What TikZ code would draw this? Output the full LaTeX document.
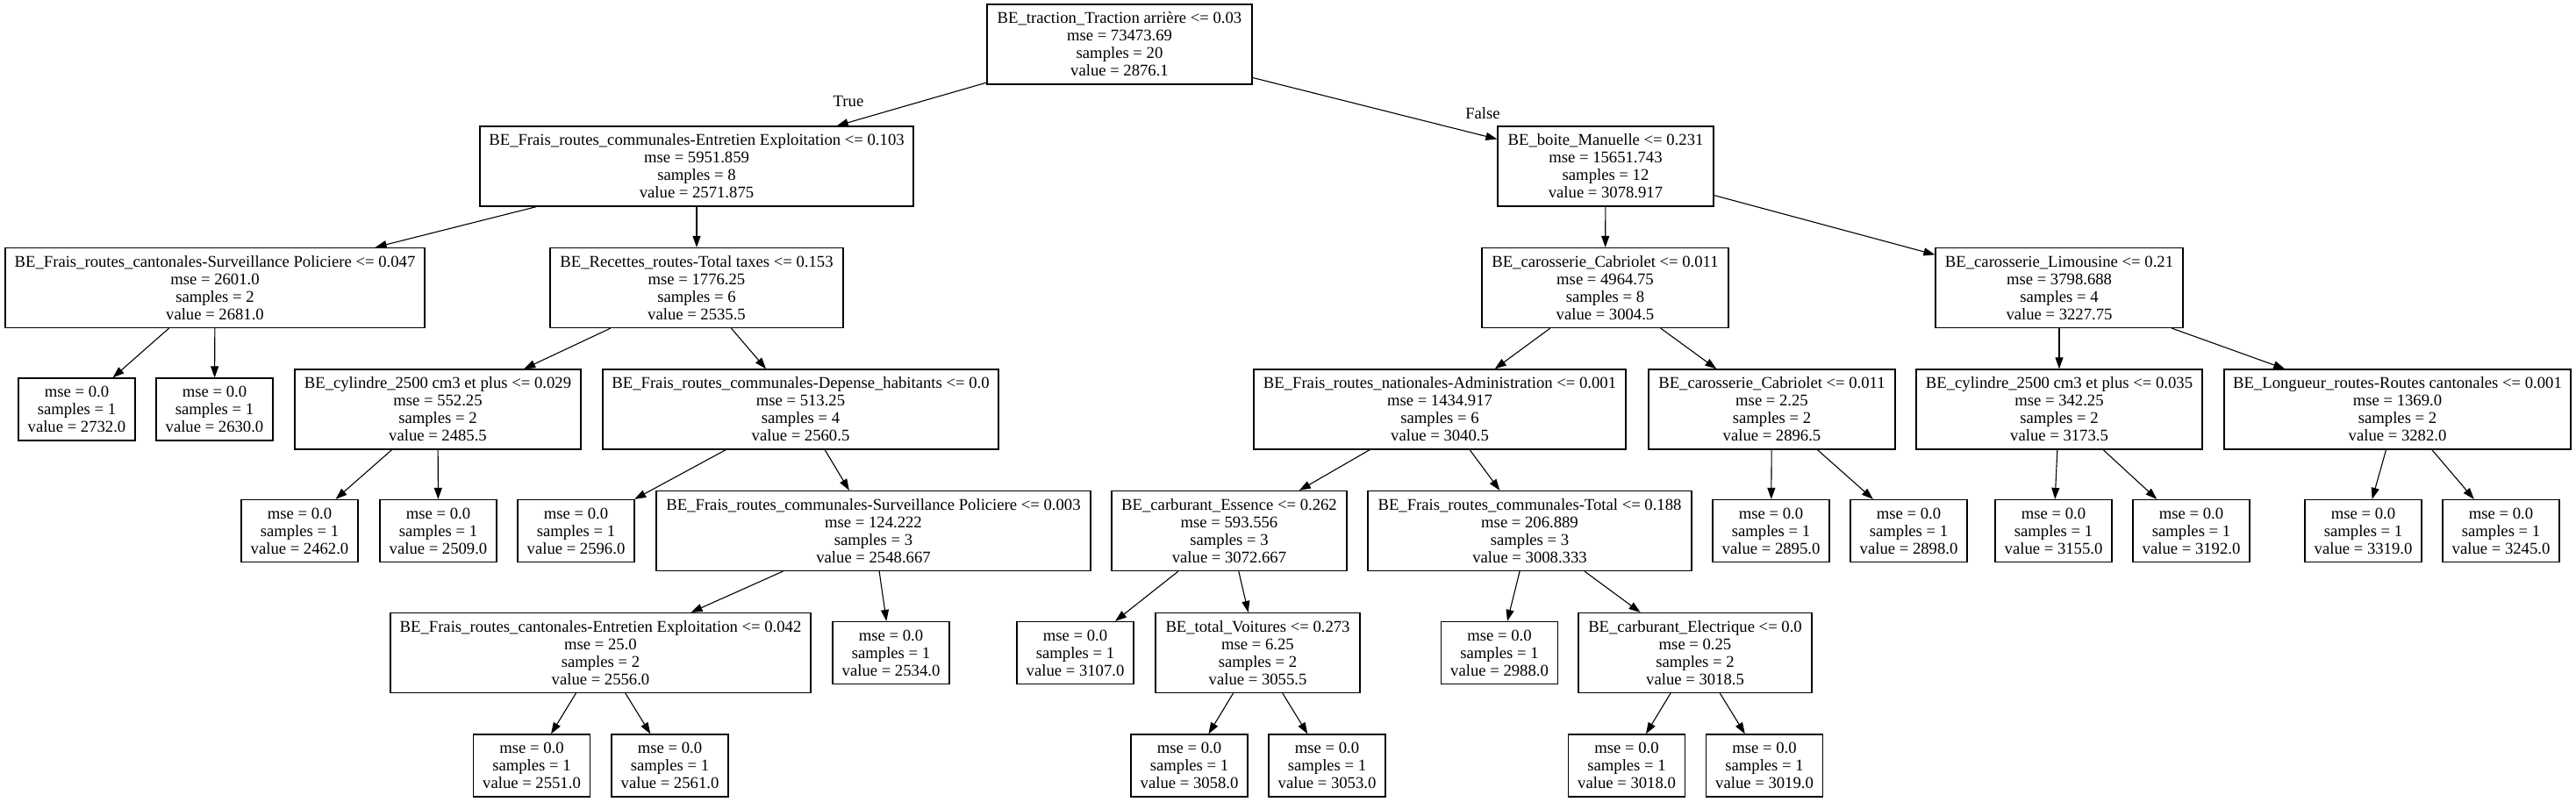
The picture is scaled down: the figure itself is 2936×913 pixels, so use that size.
\documentclass[tikz,border=0pt]{standalone}
\usepackage{fontspec}
\setmainfont{Liberation Serif}
\usepackage{tikz}
\usetikzlibrary{arrows.meta}
\newcommand{\leafTxt}[1]{mse = 0.0\\samples = 1\\value = #1}
\newcommand{\splitTxt}[4]{#1\\mse = #2\\samples = #3\\value = #4}

\begin{document}
\begin{tikzpicture}[x=1pt, y=-1pt, >={Triangle[length=13pt, width=9pt]},
    every node/.style={font=\fontsize{18.67}{20}\selectfont, inner sep=0pt},
    splitbox/.style={draw, line width=1.2pt, align=center, minimum width=#1pt, minimum height=91pt},
    leafbox/.style={draw, line width=1.2pt, align=center, minimum width=133pt, minimum height=71pt},
    edge/.style={->, line width=1.1pt}]
    \useasboundingbox (0,0) rectangle (2936,913);
    % level 0 and 1
    \node[splitbox=302] (root) at (1276,50.5) {\splitTxt{BE\_traction\_Traction arrière <= 0.03}{73473.69}{20}{2876.1}};
    \node[splitbox=494] (comEnt) at (794,189.5) {\splitTxt{BE\_Frais\_routes\_communales-Entretien Exploitation <= 0.103}{5951.859}{8}{2571.875}};
    \node[splitbox=246] (boite) at (1830,189.5) {\splitTxt{BE\_boite\_Manuelle <= 0.231}{15651.743}{12}{3078.917}};
    % level 2
    \node[splitbox=478] (cantSurv) at (245,328) {\splitTxt{BE\_Frais\_routes\_cantonales-Surveillance Policiere <= 0.047}{2601.0}{2}{2681.0}};
    \node[splitbox=334] (recettes) at (794,328) {\splitTxt{BE\_Recettes\_routes-Total taxes <= 0.153}{1776.25}{6}{2535.5}};
    \node[splitbox=281] (cabA) at (1829.5,328) {\splitTxt{BE\_carosserie\_Cabriolet <= 0.011}{4964.75}{8}{3004.5}};
    \node[splitbox=282] (limo) at (2347,328) {\splitTxt{BE\_carosserie\_Limousine <= 0.21}{3798.688}{4}{3227.75}};
    % level 3
    \node[leafbox] (l2732) at (87.5,466.5) {\leafTxt{2732.0}};
    \node[leafbox] (l2630) at (244.5,466.5) {\leafTxt{2630.0}};
    \node[splitbox=326] (cylA) at (499,466.5) {\splitTxt{BE\_cylindre\_2500 cm3 et plus <= 0.029}{552.25}{2}{2485.5}};
    \node[splitbox=451] (depHab) at (912.5,466.5) {\splitTxt{BE\_Frais\_routes\_communales-Depense\_habitants <= 0.0}{513.25}{4}{2560.5}};
    \node[splitbox=424] (natAdm) at (1641,466.5) {\splitTxt{BE\_Frais\_routes\_nationales-Administration <= 0.001}{1434.917}{6}{3040.5}};
    \node[splitbox=281] (cabB) at (2019.5,466.5) {\splitTxt{BE\_carosserie\_Cabriolet <= 0.011}{2.25}{2}{2896.5}};
    \node[splitbox=326] (cylB) at (2347,466.5) {\splitTxt{BE\_cylindre\_2500 cm3 et plus <= 0.035}{342.25}{2}{3173.5}};
    \node[splitbox=395] (longueur) at (2732.5,466.5) {\splitTxt{BE\_Longueur\_routes-Routes cantonales <= 0.001}{1369.0}{2}{3282.0}};
    % level 4
    \node[leafbox] (l2462) at (341.5,605) {\leafTxt{2462.0}};
    \node[leafbox] (l2509) at (499.5,605) {\leafTxt{2509.0}};
    \node[leafbox] (l2596) at (656.5,605) {\leafTxt{2596.0}};
    \node[splitbox=495] (comSurv) at (995.5,605) {\splitTxt{BE\_Frais\_routes\_communales-Surveillance Policiere <= 0.003}{124.222}{3}{2548.667}};
    \node[splitbox=268] (essence) at (1401,605) {\splitTxt{BE\_carburant\_Essence <= 0.262}{593.556}{3}{3072.667}};
    \node[splitbox=369] (comTotal) at (1743.5,605) {\splitTxt{BE\_Frais\_routes\_communales-Total <= 0.188}{206.889}{3}{3008.333}};
    \node[leafbox] (l2895) at (2018.5,605) {\leafTxt{2895.0}};
    \node[leafbox] (l2898) at (2175.5,605) {\leafTxt{2898.0}};
    \node[leafbox] (l3155) at (2340.5,605) {\leafTxt{3155.0}};
    \node[leafbox] (l3192) at (2497.5,605) {\leafTxt{3192.0}};
    \node[leafbox] (l3319) at (2693.5,605) {\leafTxt{3319.0}};
    \node[leafbox] (l3245) at (2850.5,605) {\leafTxt{3245.0}};
    % level 5
    \node[splitbox=479] (cantEnt) at (684.5,744) {\splitTxt{BE\_Frais\_routes\_cantonales-Entretien Exploitation <= 0.042}{25.0}{2}{2556.0}};
    \node[leafbox] (l2534) at (1015.5,744) {\leafTxt{2534.0}};
    \node[leafbox] (l3107) at (1225.5,744) {\leafTxt{3107.0}};
    \node[splitbox=233] (voitures) at (1433.5,744) {\splitTxt{BE\_total\_Voitures <= 0.273}{6.25}{2}{3055.5}};
    \node[leafbox] (l2988) at (1709,744) {\leafTxt{2988.0}};
    \node[splitbox=266] (electrique) at (1932,744) {\splitTxt{BE\_carburant\_Electrique <= 0.0}{0.25}{2}{3018.5}};
    % level 6
    \node[leafbox] (l2551) at (606,872.5) {\leafTxt{2551.0}};
    \node[leafbox] (l2561) at (763.5,872.5) {\leafTxt{2561.0}};
    \node[leafbox] (l3058) at (1355.5,872.5) {\leafTxt{3058.0}};
    \node[leafbox] (l3053) at (1512.5,872.5) {\leafTxt{3053.0}};
    \node[leafbox] (l3018) at (1854,872.5) {\leafTxt{3018.0}};
    \node[leafbox] (l3019) at (2011,872.5) {\leafTxt{3019.0}};
    % edges
    \draw[edge] (root) -- (comEnt);
    \draw[edge] (root) -- (boite);
    \node (lTrue) at (967,115) {True};
    \node (lFalse) at (1690,129) {False};
    \draw[edge] (comEnt) -- (cantSurv);
    \draw[edge] (comEnt) -- (recettes);
    \draw[edge] (cantSurv) -- (l2732);
    \draw[edge] (cantSurv) -- (l2630);
    \draw[edge] (recettes) -- (cylA);
    \draw[edge] (recettes) -- (depHab);
    \draw[edge] (cylA) -- (l2462);
    \draw[edge] (cylA) -- (l2509);
    \draw[edge] (depHab) -- (l2596);
    \draw[edge] (depHab) -- (comSurv);
    \draw[edge] (comSurv) -- (cantEnt);
    \draw[edge] (comSurv) -- (l2534);
    \draw[edge] (cantEnt) -- (l2551);
    \draw[edge] (cantEnt) -- (l2561);
    \draw[edge] (boite) -- (cabA);
    \draw[edge] (boite) -- (limo);
    \draw[edge] (cabA) -- (natAdm);
    \draw[edge] (cabA) -- (cabB);
    \draw[edge] (natAdm) -- (essence);
    \draw[edge] (natAdm) -- (comTotal);
    \draw[edge] (essence) -- (l3107);
    \draw[edge] (essence) -- (voitures);
    \draw[edge] (voitures) -- (l3058);
    \draw[edge] (voitures) -- (l3053);
    \draw[edge] (comTotal) -- (l2988);
    \draw[edge] (comTotal) -- (electrique);
    \draw[edge] (electrique) -- (l3018);
    \draw[edge] (electrique) -- (l3019);
    \draw[edge] (cabB) -- (l2895);
    \draw[edge] (cabB) -- (l2898);
    \draw[edge] (limo) -- (cylB);
    \draw[edge] (limo) -- (longueur);
    \draw[edge] (cylB) -- (l3155);
    \draw[edge] (cylB) -- (l3192);
    \draw[edge] (longueur) -- (l3319);
    \draw[edge] (longueur) -- (l3245);
\end{tikzpicture}
\end{document}
